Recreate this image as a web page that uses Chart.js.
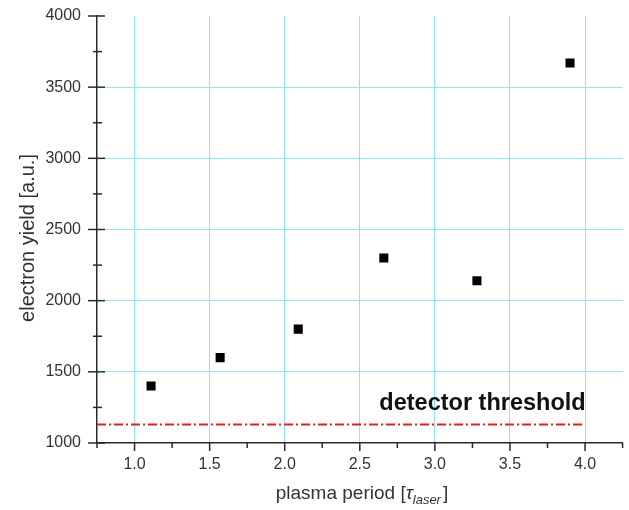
<!DOCTYPE html>
<html>
<head>
<meta charset="utf-8">
<script src="https://cdn.jsdelivr.net/npm/chart.js@4"></script>
<style>
  html, body { margin: 0; padding: 0; background: #fff; }
  #wrap { width: 629px; height: 510px; }
</style>
</head>
<body>
<div id="wrap"><canvas id="myChart" width="629" height="510"></canvas></div>
<script>
// data
const plasmaPeriod = [1.11, 1.57, 2.09, 2.66, 3.28, 3.9];
const electronYield = [1400, 1600, 1800, 2300, 2140, 3670];
const thresholdX = [0.75, 4.0];
const thresholdY = [1130, 1130];
const xTickVals = [1.0, 1.5, 2.0, 2.5, 3.0, 3.5, 4.0];
const yTickVals = [1000, 1500, 2000, 2500, 3000, 3500, 4000];
const xMinorVals = [0.75, 1.25, 1.75, 2.25, 2.75, 3.25, 3.75, 4.25];
const yMinorVals = [1250, 1750, 2250, 2750, 3250, 3750];

const FONT = "'Liberation Sans', Arial, sans-serif";
const gridCyan = "#8be8ee";
const axisColor = "#2a2a2a";

const extras = {
  id: "extras",
  afterDraw(chart) {
    const ctx = chart.ctx;
    const xs = chart.scales.x;
    const ys = chart.scales.y;
    const area = chart.chartArea;
    ctx.save();
    ctx.strokeStyle = axisColor;
    ctx.lineWidth = 1.5;
    // y ticks cross the axis line
    yTickVals.forEach((v) => {
      const py = ys.getPixelForValue(v);
      ctx.beginPath();
      ctx.moveTo(area.left - 9, py);
      ctx.lineTo(area.left + 8, py);
      ctx.stroke();
    });
    yMinorVals.forEach((v) => {
      const py = ys.getPixelForValue(v);
      ctx.beginPath();
      ctx.moveTo(area.left - 4, py);
      ctx.lineTo(area.left + 5, py);
      ctx.stroke();
    });
    // x ticks point down
    xTickVals.forEach((v) => {
      const px = xs.getPixelForValue(v);
      ctx.beginPath();
      ctx.moveTo(px, area.bottom);
      ctx.lineTo(px, area.bottom + 8);
      ctx.stroke();
    });
    xMinorVals.forEach((v) => {
      const px = xs.getPixelForValue(v);
      ctx.beginPath();
      ctx.moveTo(px, area.bottom);
      ctx.lineTo(px, area.bottom + 5);
      ctx.stroke();
    });

    // label over the threshold line
    ctx.fillStyle = "#111";
    ctx.font = "bold 23.5px " + FONT;
    ctx.textAlign = "left";
    ctx.textBaseline = "alphabetic";
    ctx.fillText("detector threshold", xs.getPixelForValue(2.63), ys.getPixelForValue(1235));

    // axis titles
    ctx.fillStyle = "#333";
    const main = "plasma period [";
    const tau = "\u03C4";
    const sub = "laser";
    const close = "]";
    ctx.font = "19px " + FONT;
    const w1 = ctx.measureText(main).width;
    ctx.font = "italic 19px " + FONT;
    const w2 = ctx.measureText(tau).width;
    ctx.font = "italic 13px " + FONT;
    const w3 = ctx.measureText(sub).width;
    ctx.font = "19px " + FONT;
    const w4 = ctx.measureText(close).width;
    const total = w1 + w2 + w3 + w4 + 2;
    let tx = 362 - total / 2;
    const ty = 499;
    ctx.font = "19px " + FONT;
    ctx.fillText(main, tx, ty);
    tx += w1;
    ctx.font = "italic 19px " + FONT;
    ctx.fillText(tau, tx, ty);
    tx += w2;
    ctx.font = "italic 13px " + FONT;
    ctx.fillText(sub, tx, ty + 5);
    tx += w3 + 2;
    ctx.font = "19px " + FONT;
    ctx.fillText(close, tx, ty);

    ctx.translate(28, 238);
    ctx.rotate(-Math.PI / 2);
    ctx.textAlign = "center";
    ctx.textBaseline = "middle";
    ctx.font = "20px " + FONT;
    ctx.fillText("electron yield [a.u.]", 0, 0);
    ctx.restore();
  },
};

const newChart = document.getElementById("myChart").getContext("2d");
// eslint-disable-next-line no-undef
const myChart = new Chart(newChart, {
  type: "scatter",
  data: {
    datasets: [
      {
        type: "line",
        label: "threshold",
        data: thresholdX.map((x, i) => ({ x: x, y: thresholdY[i] })),
        borderColor: "#e0211d",
        borderWidth: 2,
        borderDash: [9, 3, 2, 3],
        pointRadius: 0,
        fill: false,
      },
      {
        label: "electron yield",
        data: plasmaPeriod.map((x, i) => ({ x: x, y: electronYield[i] })),
        pointStyle: "rect",
        pointRadius: 6.4,
        backgroundColor: "#000",
        borderColor: "#000",
        borderWidth: 0,
      },
    ],
  },
  options: {
    responsive: false,
    animation: false,
    devicePixelRatio: 1,
    layout: { padding: { top: 16, right: 2, left: 0, bottom: 0 } },
    plugins: { legend: { display: false }, tooltip: { enabled: false } },
    scales: {
      x: {
        type: "linear",
        min: 0.75,
        max: 4.25,
        afterBuildTicks: (scale) => {
          scale.ticks = xTickVals.map((v) => ({ value: v }));
        },
        afterFit: (scale) => {
          scale.height = 67;
          scale.paddingLeft = 0;
          scale.paddingRight = 0;
        },
        ticks: {
          color: "#333",
          font: { family: FONT, size: 16 },
          padding: 12,
          callback: (v) => v.toFixed(1),
        },
        grid: { color: gridCyan, lineWidth: 1, drawTicks: false },
        border: { display: true, color: axisColor, width: 1.5 },
      },
      y: {
        type: "linear",
        min: 1000,
        max: 4000,
        afterBuildTicks: (scale) => {
          scale.ticks = yTickVals.map((v) => ({ value: v }));
        },
        afterFit: (scale) => {
          scale.width = 97;
          scale.paddingTop = 0;
          scale.paddingBottom = 0;
        },
        ticks: {
          color: "#333",
          font: { family: FONT, size: 16 },
          padding: 16,
          callback: (v) => String(v),
        },
        grid: {
          color: yTickVals.map((v) =>
            v === 1000 || v === 4000 ? "rgba(0,0,0,0)" : gridCyan
          ),
          lineWidth: 1,
          drawTicks: false,
        },
        border: { display: true, color: axisColor, width: 1.5 },
      },
    },
  },
  plugins: [extras],
});
</script>
</body>
</html>
